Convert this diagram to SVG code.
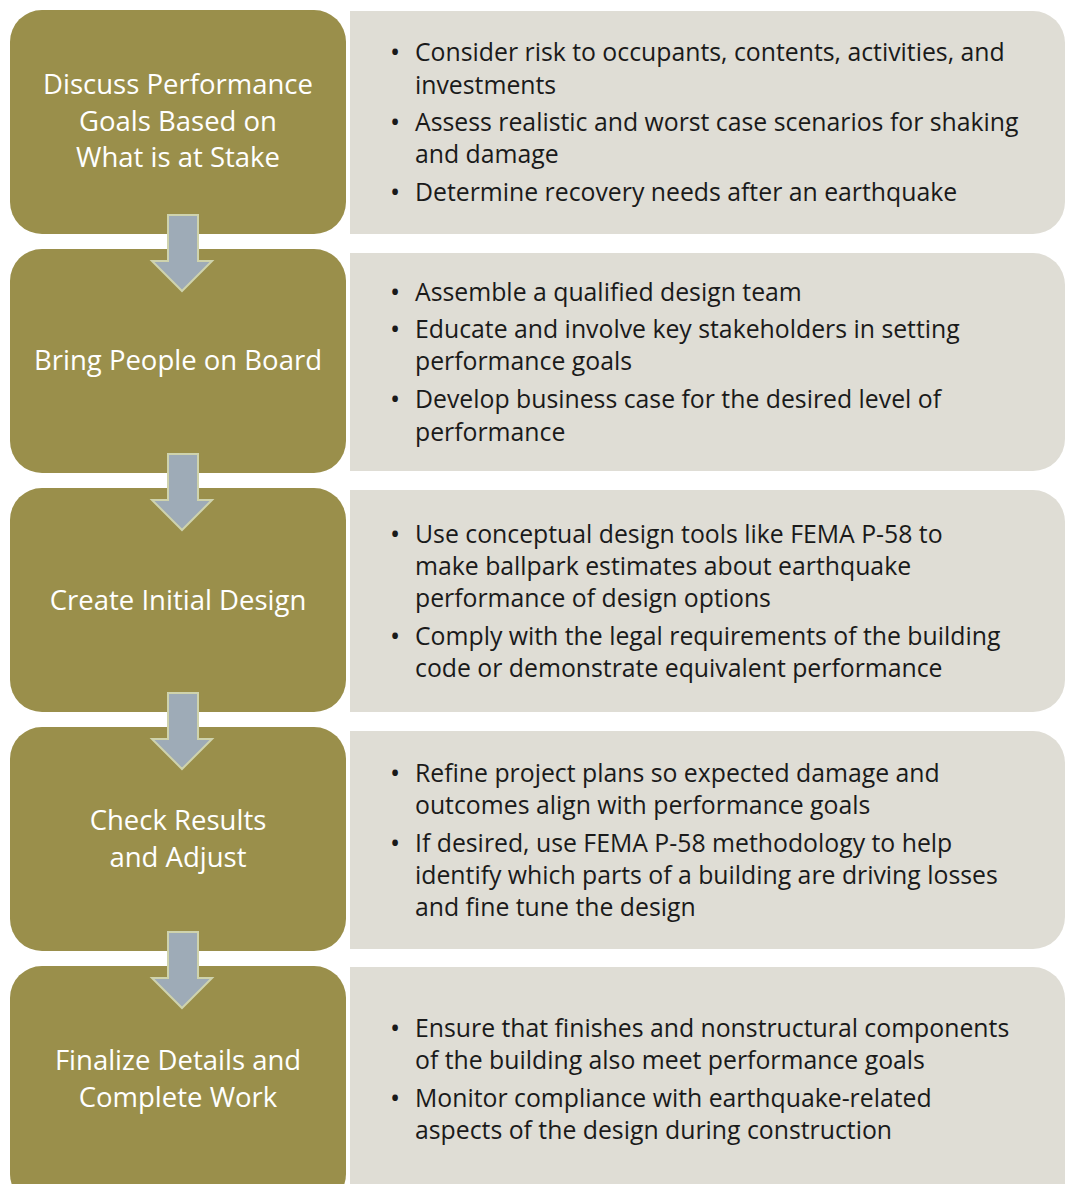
<svg xmlns="http://www.w3.org/2000/svg" width="1065" height="1184" viewBox="0 0 1065 1184">
<defs>
<style>
.step{fill:#9a8f4b}
.info{fill:#dfddd5}
.st{font-family:"Open Sans","Liberation Sans",sans-serif;font-size:27.5px;font-weight:400;fill:#ffffff;text-anchor:middle}
.bt{font-family:"Open Sans","Liberation Sans",sans-serif;font-size:24.8px;font-weight:400;fill:#1a1a1a}
.bu{font-size:27px}
.arrow{fill:#9eabb7;stroke:#cfd3ad;stroke-width:2}
</style>
</defs>
<rect width="1065" height="1184" fill="#ffffff"/>
<g id="row1">
<g id="step1"><rect class="step" x="10" y="10" width="336" height="224" rx="32"/>
<text class="st" x="178" y="94">Discuss Performance</text><text class="st" x="178" y="131">Goals Based on</text><text class="st" x="178" y="167">What is at Stake</text></g>
<g id="info1"><path class="info" d="M350 11 H1033 A32 32 0 0 1 1065 43 V202 A32 32 0 0 1 1033 234 H350 Z"/>
<text class="bt"><tspan class="bu" x="390" y="62">•</tspan><tspan x="415" y="61">Consider risk to occupants, contents, activities, and</tspan><tspan x="415" y="94">investments</tspan><tspan class="bu" x="390" y="132">•</tspan><tspan x="415" y="131">Assess realistic and worst case scenarios for shaking</tspan><tspan x="415" y="163">and damage</tspan><tspan class="bu" x="390" y="202">•</tspan><tspan x="415" y="201">Determine recovery needs after an earthquake</tspan></text></g>
</g>
<g id="row2">
<g id="step2"><rect class="step" x="10" y="249" width="336" height="224" rx="32"/>
<text class="st" x="178" y="370">Bring People on Board</text></g>
<g id="info2"><path class="info" d="M350 253 H1033 A32 32 0 0 1 1065 285 V439 A32 32 0 0 1 1033 471 H350 Z"/>
<text class="bt"><tspan class="bu" x="390" y="302">•</tspan><tspan x="415" y="301">Assemble a qualified design team</tspan><tspan class="bu" x="390" y="339">•</tspan><tspan x="415" y="338">Educate and involve key stakeholders in setting</tspan><tspan x="415" y="370">performance goals</tspan><tspan class="bu" x="390" y="409">•</tspan><tspan x="415" y="408">Develop business case for the desired level of</tspan><tspan x="415" y="441">performance</tspan></text></g>
</g>
<g id="row3">
<g id="step3"><rect class="step" x="10" y="488" width="336" height="224" rx="32"/>
<text class="st" x="178" y="610">Create Initial Design</text></g>
<g id="info3"><path class="info" d="M350 490 H1033 A32 32 0 0 1 1065 522 V680 A32 32 0 0 1 1033 712 H350 Z"/>
<text class="bt"><tspan class="bu" x="390" y="544">•</tspan><tspan x="415" y="543">Use conceptual design tools like FEMA P-58 to</tspan><tspan x="415" y="575">make ballpark estimates about earthquake</tspan><tspan x="415" y="607">performance of design options</tspan><tspan class="bu" x="390" y="646">•</tspan><tspan x="415" y="645">Comply with the legal requirements of the building</tspan><tspan x="415" y="677">code or demonstrate equivalent performance</tspan></text></g>
</g>
<g id="row4">
<g id="step4"><rect class="step" x="10" y="727" width="336" height="224" rx="32"/>
<text class="st" x="178" y="830">Check Results</text><text class="st" x="178" y="867">and Adjust</text></g>
<g id="info4"><path class="info" d="M350 731 H1033 A32 32 0 0 1 1065 763 V917 A32 32 0 0 1 1033 949 H350 Z"/>
<text class="bt"><tspan class="bu" x="390" y="783">•</tspan><tspan x="415" y="782">Refine project plans so expected damage and</tspan><tspan x="415" y="814">outcomes align with performance goals</tspan><tspan class="bu" x="390" y="853">•</tspan><tspan x="415" y="852">If desired, use FEMA P-58 methodology to help</tspan><tspan x="415" y="884">identify which parts of a building are driving losses</tspan><tspan x="415" y="916">and fine tune the design</tspan></text></g>
</g>
<g id="row5">
<g id="step5"><rect class="step" x="10" y="966" width="336" height="240" rx="32"/>
<text class="st" x="178" y="1070">Finalize Details and</text><text class="st" x="178" y="1107">Complete Work</text></g>
<g id="info5"><path class="info" d="M350 967 H1033 A32 32 0 0 1 1065 999 V1200 H350 Z"/>
<text class="bt"><tspan class="bu" x="390" y="1038">•</tspan><tspan x="415" y="1037">Ensure that finishes and nonstructural components</tspan><tspan x="415" y="1069">of the building also meet performance goals</tspan><tspan class="bu" x="390" y="1108">•</tspan><tspan x="415" y="1107">Monitor compliance with earthquake-related</tspan><tspan x="415" y="1139">aspects of the design during construction</tspan></text></g>
</g>
<g id="connectors">
<path class="arrow" d="M168 215 H198 V261 H212 L182 291 L152 261 H168 Z"/>
<path class="arrow" d="M168 454 H198 V500 H212 L182 530 L152 500 H168 Z"/>
<path class="arrow" d="M168 693 H198 V739 H212 L182 769 L152 739 H168 Z"/>
<path class="arrow" d="M168 932 H198 V978 H212 L182 1008 L152 978 H168 Z"/>
</g>
</svg>
